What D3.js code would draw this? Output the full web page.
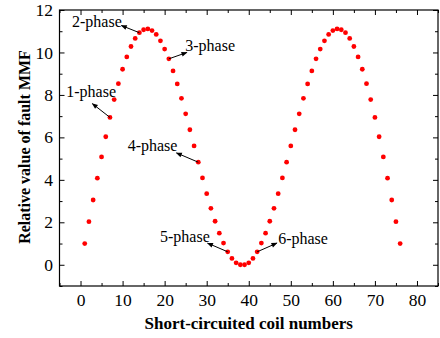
<!DOCTYPE html>
<html>
<head>
<meta charset="utf-8">
<script src="https://cdn.jsdelivr.net/npm/d3@7"></script>
<style>
  html, body { margin: 0; padding: 0; background: #fff; }
  svg { display: block; }
  text { font-family: "Liberation Serif", "Times New Roman", serif; fill: #000; }
</style>
</head>
<body>
<svg id="chart" width="440" height="338"></svg>
<script>
// ---- data ----
const coilNumbers = [
  1,2,3,4,5,6,7,8,9,10,11,12,13,14,15,16,17,18,19,
  20,21,22,23,24,25,26,27,28,29,30,31,32,33,34,35,36,37,38,
  39,40,41,42,43,44,45,46,47,48,49,50,51,52,53,54,55,56,57,
  58,59,60,61,62,63,64,65,66,67,68,69,70,71,72,73,74,75,76
];
const mmfValues = [
  1.00,2.03,3.05,4.08,5.08,6.03,6.94,7.78,8.53,9.21,9.79,10.28,10.66,10.93,11.07,11.11,11.03,10.85,10.55,
  10.16,9.70,9.13,8.52,7.84,7.11,6.36,5.60,4.83,4.09,3.35,2.66,2.05,1.49,1.02,0.61,0.30,0.09,0.00,
  0.00,0.09,0.30,0.61,1.02,1.49,2.05,2.66,3.35,4.09,4.83,5.60,6.36,7.11,7.84,8.52,9.13,9.70,10.16,
  10.55,10.85,11.03,11.11,11.07,10.93,10.66,10.28,9.79,9.21,8.53,7.78,6.94,6.03,5.08,4.08,3.05,2.03,1.00
];
const xTicks = [0,10,20,30,40,50,60,70,80];
const yTicks = [0,2,4,6,8,10,12];
const xDomain = [-5, 85];
const yDomain = [-1, 12];

// annotations: label, text anchor point (data units), arrow head (data units), pointed coil
const annLabels   = ["1-phase","2-phase","3-phase","4-phase","5-phase","6-phase"];
const annCoil     = [7, 14, 21, 28, 35, 42];
const annTextX    = [-3.4, 9.8, 24.9, 11.2, 18.9, 47.0];
const annTextY    = [8.15, 11.46, 10.31, 5.6, 1.30, 1.23];
const annAnchor   = ["start","end","start","start","start","start"];
const annHeadX    = [2.8, 9.7, 25.3, 22.8, 30.2, 46.7];
const annHeadY    = [7.59, 11.27, 10.0, 5.27, 1.02, 1.02];

// ---- layout ----
const svg = d3.select("#chart");
const L = 59.5, R = 438, T = 10, B = 286;
const x = d3.scaleLinear().domain(xDomain).range([L, R]);
const y = d3.scaleLinear().domain(yDomain).range([B, T]);

const defs = svg.append("defs");
defs.append("marker")
  .attr("id", "arrow").attr("viewBox", "0 0 10 10")
  .attr("refX", 9).attr("refY", 5)
  .attr("markerWidth", 7).attr("markerHeight", 6)
  .attr("markerUnits", "userSpaceOnUse")
  .attr("orient", "auto")
  .append("path").attr("d", "M0,1 L10,5 L0,9 Z").attr("fill", "#000");

const xMinor = d3.range(-5, 86, 5).filter(v => !xTicks.includes(v));
const yMinor = d3.range(-1, 12.01, 1).filter(v => !yTicks.includes(v));

function styleAxis(g) {
  g.select(".domain").remove();
  g.selectAll(".tick line").attr("stroke", "#000").attr("stroke-width", 1);
  g.selectAll(".tick text")
    .style("font-family", '"Liberation Serif", "Times New Roman", serif')
    .style("font-size", "17.5px").attr("fill", "#000");
}

// bottom
svg.append("g").attr("transform", `translate(0,${B})`)
  .call(d3.axisBottom(x).tickValues(xTicks).tickSizeInner(-5).tickSizeOuter(0).tickPadding(8))
  .call(styleAxis);
svg.append("g").attr("transform", `translate(0,${B})`)
  .call(d3.axisBottom(x).tickValues(xMinor).tickSizeInner(-3).tickSizeOuter(0).tickFormat(""))
  .call(styleAxis);
// top
svg.append("g").attr("transform", `translate(0,${T})`)
  .call(d3.axisTop(x).tickValues(xTicks).tickSizeInner(-5).tickSizeOuter(0).tickFormat(""))
  .call(styleAxis);
svg.append("g").attr("transform", `translate(0,${T})`)
  .call(d3.axisTop(x).tickValues(xMinor).tickSizeInner(-3).tickSizeOuter(0).tickFormat(""))
  .call(styleAxis);
// left
svg.append("g").attr("transform", `translate(${L},0)`)
  .call(d3.axisLeft(y).tickValues(yTicks).tickSizeInner(-5).tickSizeOuter(0).tickPadding(6.5))
  .call(styleAxis);
svg.append("g").attr("transform", `translate(${L},0)`)
  .call(d3.axisLeft(y).tickValues(yMinor).tickSizeInner(-3).tickSizeOuter(0).tickFormat(""))
  .call(styleAxis);
// right
svg.append("g").attr("transform", `translate(${R},0)`)
  .call(d3.axisRight(y).tickValues(yTicks).tickSizeInner(-5).tickSizeOuter(0).tickFormat(""))
  .call(styleAxis);
svg.append("g").attr("transform", `translate(${R},0)`)
  .call(d3.axisRight(y).tickValues(yMinor).tickSizeInner(-3).tickSizeOuter(0).tickFormat(""))
  .call(styleAxis);

// frame
svg.append("rect").attr("x", L).attr("y", T).attr("width", R - L).attr("height", B - T)
  .attr("fill", "none").attr("stroke", "#000").attr("stroke-width", 1.2);

// points
svg.append("g").selectAll("circle")
  .data(coilNumbers.map((c, i) => ({c, v: mmfValues[i]})))
  .join("circle")
  .attr("cx", d => x(d.c)).attr("cy", d => y(d.v))
  .attr("r", 2.4).attr("fill", "#ff0000");

// annotations
const ann = svg.append("g");
annLabels.forEach((lab, i) => {
  const ci = coilNumbers.indexOf(annCoil[i]);
  ann.append("line")
    .attr("x1", x(annCoil[i])).attr("y1", y(mmfValues[ci]))
    .attr("x2", x(annHeadX[i])).attr("y2", y(annHeadY[i]))
    .attr("stroke", "#000").attr("stroke-width", 1)
    .attr("marker-end", "url(#arrow)");
  ann.append("text")
    .attr("x", x(annTextX[i])).attr("y", y(annTextY[i]))
    .attr("dy", "0.32em")
    .attr("text-anchor", annAnchor[i])
    .style("font-size", "16px")
    .text(lab);
});

// axis titles
svg.append("text")
  .attr("x", (L + R) / 2).attr("y", 329)
  .attr("text-anchor", "middle")
  .style("font-size", "17px").style("font-weight", "bold")
  .text("Short-circuited coil numbers");
svg.append("text")
  .attr("transform", `translate(24,147) rotate(-90)`)
  .attr("text-anchor", "middle").attr("dy", "0.35em")
  .style("font-size", "16px").style("font-weight", "bold")
  .text("Relative value of fault MMF");
</script>
</body>
</html>
